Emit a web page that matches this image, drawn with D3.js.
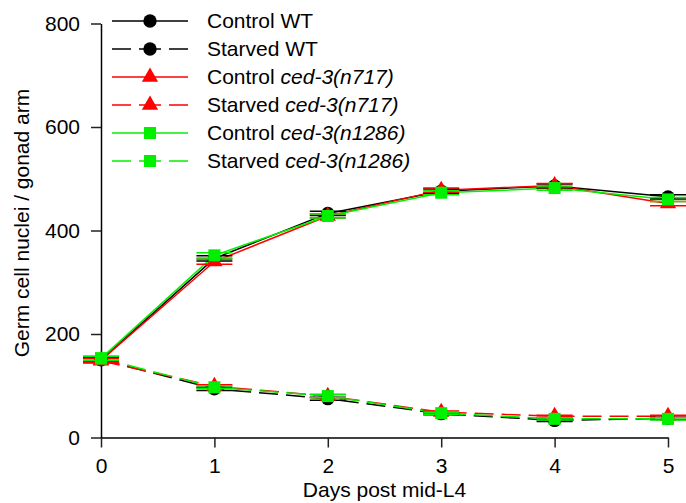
<!DOCTYPE html>
<html>
<head>
<meta charset="utf-8">
<script src="https://cdn.jsdelivr.net/npm/d3@7"></script>
<style>
  body { margin: 0; background: #fff; }
  svg { display: block; }
</style>
</head>
<body>
<div id="chart"></div>
<script>
// days on the x axis
const days = [0, 1, 2, 3, 4, 5];

// germ cell nuclei per gonad arm
const controlWT     = [150, 346, 433, 476, 486, 465];
const starvedWT     = [151, 94, 75, 46, 33, 37];
const controlN717   = [149, 340, 428, 478, 487, 452];
const starvedN717   = [148, 99, 80, 49, 41, 41];
const controlN1286  = [153, 352, 428, 473, 482, 460];
const starvedN1286  = [153, 97, 80, 47, 36, 36];

// small error bars (SEM)
const controlWTErr    = [4, 5, 4, 4, 4, 4];
const starvedWTErr    = [4, 3, 3, 2, 2, 2];
const controlN717Err  = [4, 5, 4, 4, 4, 4];
const starvedN717Err  = [4, 3, 3, 2, 2, 2];
const controlN1286Err = [4, 5, 4, 4, 4, 4];
const starvedN1286Err = [4, 3, 3, 2, 2, 2];

const yTicks = [0, 200, 400, 600, 800];

series = [
    {name: 'Control WT', italic: null, values: controlWT, err: controlWTErr, color: '#000000', dashed: false, symbol: d3.symbolCircle, size: 140},
    {name: 'Starved WT', italic: null, values: starvedWT, err: starvedWTErr, color: '#000000', dashed: true, symbol: d3.symbolCircle, size: 140},
    {name: 'Control ', italic: 'ced-3(n717)', values: controlN717, err: controlN717Err, color: '#ff0000', dashed: false, symbol: d3.symbolTriangle, size: 115},
    {name: 'Starved ', italic: 'ced-3(n717)', values: starvedN717, err: starvedN717Err, color: '#ff0000', dashed: true, symbol: d3.symbolTriangle, size: 115},
    {name: 'Control ', italic: 'ced-3(n1286)', values: controlN1286, err: controlN1286Err, color: '#00f000', dashed: false, symbol: d3.symbolSquare, size: 145},
    {name: 'Starved ', italic: 'ced-3(n1286)', values: starvedN1286, err: starvedN1286Err, color: '#00f000', dashed: true, symbol: d3.symbolSquare, size: 145}
];

width = 686;
height = 503;
margin = ({top: 23.5, right: 18, bottom: 65.5, left: 101});
fontFamily = '"Liberation Sans", Arial, sans-serif';
fontSize = 21;
dashPattern = '19,8';

createBoard = function(selector) {
    const svg = d3.select(selector).append("svg")
        .attr("width", width)
        .attr("height", height)
        .attr("font-family", fontFamily);

    const x = d3.scaleLinear()
        .domain([0, 5])
        .range([margin.left, width - margin.right]);
    const y = d3.scaleLinear()
        .domain([0, 800])
        .range([height - margin.bottom, margin.top]);

    const xAxis = g => g
        .attr("transform", `translate(0,${height - margin.bottom})`)
        .call(d3.axisBottom(x).tickValues(days).tickFormat(d3.format("d")).tickSize(10).tickSizeOuter(0).tickPadding(11))
        .call(g => g.select(".domain").attr("stroke", "#000").attr("stroke-width", 1.5))
        .call(g => g.selectAll(".tick line").attr("stroke", "#222").attr("stroke-width", 1.5))
        .call(g => g.selectAll(".tick text").attr("font-size", fontSize).attr("fill", "#000").attr("font-family", fontFamily));

    const yAxis = g => g
        .attr("transform", `translate(${margin.left},0)`)
        .call(d3.axisLeft(y).tickValues(yTicks).tickSize(10).tickSizeOuter(0).tickPadding(11))
        .call(g => g.select(".domain").attr("stroke", "#000").attr("stroke-width", 1.5))
        .call(g => g.selectAll(".tick line").attr("stroke", "#222").attr("stroke-width", 1.5))
        .call(g => g.selectAll(".tick text").attr("font-size", fontSize).attr("fill", "#000").attr("font-family", fontFamily));

    svg.append("g").call(xAxis);
    svg.append("g").call(yAxis);

    // axis titles
    svg.append("text")
        .attr("x", (margin.left + width - margin.right) / 2)
        .attr("y", 497)
        .attr("text-anchor", "middle")
        .attr("font-size", fontSize)
        .text("Days post mid-L4");

    svg.append("text")
        .attr("transform", `translate(29,223) rotate(-90)`)
        .attr("text-anchor", "middle")
        .attr("font-size", fontSize)
        .text("Germ cell nuclei / gonad arm");

    const line = d3.line()
        .x((d, i) => x(days[i]))
        .y(d => y(d));

    // lines first
    series.forEach(s => {
        svg.append("path")
            .datum(s.values)
            .attr("fill", "none")
            .attr("stroke", s.color)
            .attr("stroke-width", 1.5)
            .attr("stroke-dasharray", s.dashed ? dashPattern : null)
            .attr("d", line);
    });

    // error bars + markers
    series.forEach(s => {
        const eb = svg.append("g")
            .attr("stroke", s.color)
            .attr("stroke-width", 1.5)
            .selectAll("g")
            .data(s.values.map((v, i) => ({day: days[i], v: v, e: s.err[i]})))
            .join("g");
        eb.append("line")
            .attr("x1", d => x(d.day)).attr("x2", d => x(d.day))
            .attr("y1", d => y(d.v - d.e)).attr("y2", d => y(d.v + d.e));
        eb.append("line")
            .attr("x1", d => x(d.day) - 18).attr("x2", d => x(d.day) + 18)
            .attr("y1", d => y(d.v - d.e)).attr("y2", d => y(d.v - d.e));
        eb.append("line")
            .attr("x1", d => x(d.day) - 18).attr("x2", d => x(d.day) + 18)
            .attr("y1", d => y(d.v + d.e)).attr("y2", d => y(d.v + d.e));

        svg.append("g")
            .attr("fill", s.color)
            .selectAll("path")
            .data(s.values)
            .join("path")
            .attr("transform", (d, i) => `translate(${x(days[i])},${y(d)})`)
            .attr("d", d3.symbol().type(s.symbol).size(s.size));
    });
};

createLegend = function(selector) {
    const svg = d3.select(selector).select("svg");
    const g = svg.append("g")
        .attr("font-size", fontSize)
        .selectAll("g")
        .data(series)
        .join("g")
        .attr("transform", (d, i) => `translate(0,${21 + i * 28})`);

    // left and right halves so dashes sit symmetric around the marker
    g.append("line")
        .attr("x1", 112).attr("x2", 150).attr("y1", 0).attr("y2", 0)
        .attr("stroke", d => d.color)
        .attr("stroke-width", 1.5)
        .attr("stroke-dasharray", d => d.dashed ? dashPattern : null);
    g.append("line")
        .attr("x1", 188).attr("x2", 150).attr("y1", 0).attr("y2", 0)
        .attr("stroke", d => d.color)
        .attr("stroke-width", 1.5)
        .attr("stroke-dasharray", d => d.dashed ? dashPattern : null);

    g.append("path")
        .attr("transform", "translate(150,0)")
        .attr("fill", d => d.color)
        .attr("d", d => d3.symbol().type(d.symbol).size(d.size)());

    const t = g.append("text")
        .attr("x", 207)
        .attr("y", 7);
    t.append("tspan").text(d => d.name);
    t.filter(d => d.italic).append("tspan")
        .attr("font-style", "italic")
        .text(d => d.italic);
};

createBoard("#chart");
createLegend("#chart");
</script>
</body>
</html>
